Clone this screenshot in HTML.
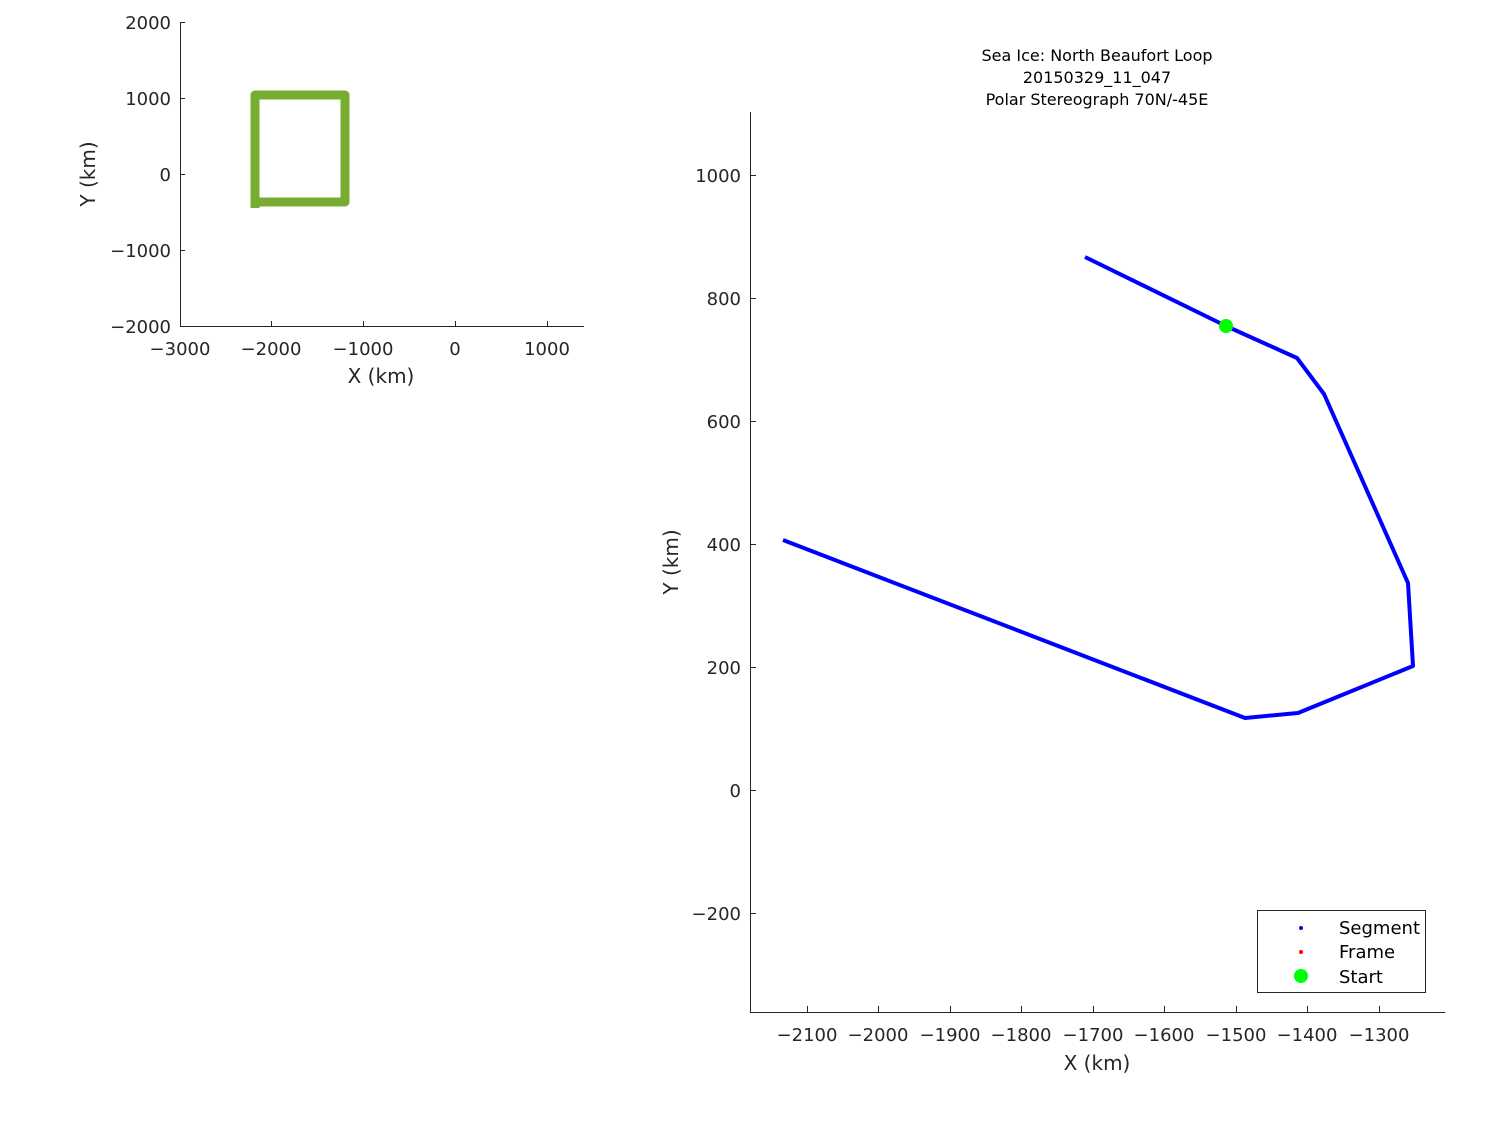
<!DOCTYPE html>
<html><head><style>body{margin:0;background:#fff}</style></head><body>
<svg width="1500" height="1125" xmlns="http://www.w3.org/2000/svg" font-family="'DejaVu Sans','Liberation Sans',sans-serif" fill="#262626">
<rect width="1500" height="1125" fill="#fff"/>
<!-- small plot -->
<g stroke="#262626" stroke-width="1" fill="none">
<path d="M180.5 22V326.5H584"/>
<path d="M180 22.5h5M180 98.5h5M180 174.5h5M180 250.5h5M271.5 326v-5M363.5 326v-5M455.5 326v-5M547.5 326v-5"/>
</g>
<g font-size="18" text-anchor="end">
<text x="171" y="29">2000</text><text x="171" y="105">1000</text><text x="171" y="181">0</text><text x="171" y="257">−1000</text><text x="171" y="333">−2000</text>
</g>
<g font-size="18" text-anchor="middle">
<text x="180" y="355">−3000</text><text x="271" y="355">−2000</text><text x="363" y="355">−1000</text><text x="455" y="355">0</text><text x="547" y="355">1000</text>
<text x="381" y="383" font-size="20">X (km)</text>
<text transform="translate(95,174) rotate(-90)" font-size="20">Y (km)</text>
</g>
<g stroke="#77ac30" stroke-width="9" fill="none" stroke-linejoin="round">
<path d="M255 208V95H345V202H256"/>
</g>
<!-- main plot -->
<g stroke="#262626" stroke-width="1" fill="none">
<path d="M750.5 112V1012.5H1445"/>
<path d="M750 175.5h6M750 298.5h6M750 421.5h6M750 544.5h6M750 667.5h6M750 790.5h6M750 913.5h6"/>
<path d="M807.5 1012v-6M878.5 1012v-6M950.5 1012v-6M1021.5 1012v-6M1093.5 1012v-6M1164.5 1012v-6M1236.5 1012v-6M1307.5 1012v-6M1379.5 1012v-6"/>
</g>
<g font-size="18" text-anchor="end">
<text x="741" y="182">1000</text><text x="741" y="305">800</text><text x="741" y="428">600</text><text x="741" y="551">400</text><text x="741" y="674">200</text><text x="741" y="797">0</text><text x="741" y="920">−200</text>
</g>
<g font-size="18" text-anchor="middle">
<text x="807" y="1041">−2100</text><text x="878" y="1041">−2000</text><text x="950" y="1041">−1900</text><text x="1021" y="1041">−1800</text><text x="1093" y="1041">−1700</text><text x="1164" y="1041">−1600</text><text x="1236" y="1041">−1500</text><text x="1307" y="1041">−1400</text><text x="1379" y="1041">−1300</text>
<text x="1097" y="1070" font-size="20">X (km)</text>
<text transform="translate(678,562) rotate(-90)" font-size="20">Y (km)</text>
</g>
<g font-size="16" text-anchor="middle" fill="#000">
<text x="1097" y="61">Sea Ice: North Beaufort Loop</text>
<text x="1097" y="83">20150329_11_047</text>
<text x="1097" y="105">Polar Stereograph 70N/-45E</text>
</g>
<polyline points="1085,257 1226,326 1297,358 1324,394 1408,583 1413,666 1298,713 1245,718 783,540" fill="none" stroke="#0000ff" stroke-width="4" stroke-linejoin="round"/>
<circle cx="1226" cy="326" r="7" fill="#00ff00"/>
<!-- legend -->
<rect x="1257.5" y="910.5" width="168" height="82" fill="#fff" stroke="#262626"/>
<circle cx="1301" cy="928" r="2" fill="#0000cc"/>
<circle cx="1301" cy="952" r="2" fill="#ff0000"/>
<circle cx="1301" cy="976" r="7" fill="#00ff00"/>
<g font-size="18" fill="#000">
<text x="1339" y="934">Segment</text><text x="1339" y="958">Frame</text><text x="1339" y="983">Start</text>
</g>
</svg>
</body></html>
